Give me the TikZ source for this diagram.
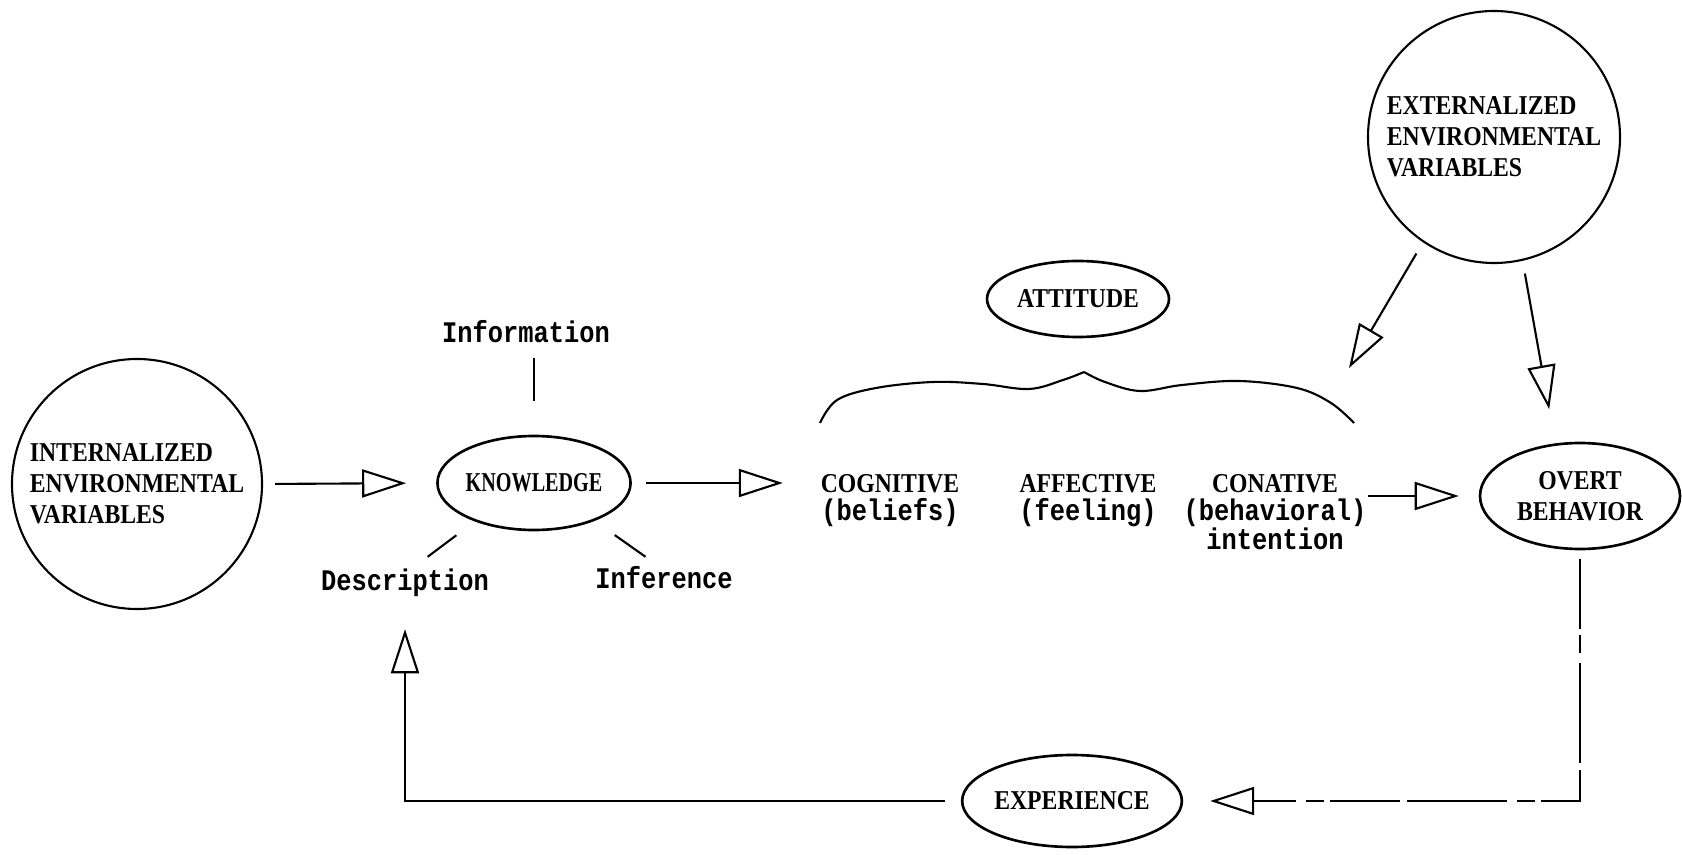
\documentclass[tikz,border=0pt]{standalone}
\usepackage{fontspec}
\usepackage{graphicx}
\newfontfamily\capsfont[FakeStretch=0.87]{Liberation Serif Bold}
\newfontfamily\typefont[FakeStretch=0.85]{Liberation Mono Bold}
\newcommand{\lowtext}[1]{{\typefont\fontsize{17}{16}\selectfont #1}}
\usetikzlibrary{arrows.meta,shapes.geometric}

\begin{document}
\begin{tikzpicture}[line width=1.2pt,
    every node/.append style={inner sep=0pt},
    caps/.style={font=\capsfont\fontsize{15.5}{17.6}\selectfont},
    lowlabel/.style={font=\typefont\fontsize{17}{16}\selectfont, anchor=base},
    blob/.style={draw,circle,caps,align=left,minimum size=#1},
    oval/.style={draw,ellipse,caps,align=center,line width=1.5pt},
    part/.style={font=\capsfont\fontsize{15.5}{16.4}\selectfont,align=center,anchor=north},
    hollow/.style={-{Triangle[open,length=0.88cm,width=0.56cm]}},
    broken/.style={dash pattern=on 1.4cm off 0.12cm on 0.35cm off 0.2cm on 2cm off 0.15cm}]

    \useasboundingbox (0,0) rectangle (33.64,17.08);

    \node[blob=5cm] (intv) at (2.74,7.40) {INTERNALIZED\\ENVIRONMENTAL\\VARIABLES};
    \node[blob=5.04cm] (ext) at (29.88,14.34) {EXTERNALIZED\\ENVIRONMENTAL\\VARIABLES};

    \node[oval,minimum width=3.76cm,minimum height=1.88cm] (know) at (10.68,7.42) {\scalebox{0.85}[1]{KNOWLEDGE}};
    \node[oval,minimum width=3.64cm,minimum height=1.52cm] (att) at (21.56,11.10) {ATTITUDE};
    \node[oval,minimum width=4cm,minimum height=2.12cm] (ovb) at (31.60,7.16) {OVERT\\BEHAVIOR};
    \node[oval,minimum width=4.12cm,minimum height=1.84cm] (exp) at (21.44,1.06) {EXPERIENCE};

    \node[lowlabel] (info) at (10.52,10.24) {Information};
    \node[lowlabel] (desc) at (8.10,5.28) {Description};
    \node[lowlabel] (infr) at (13.28,5.32) {Inference};

    \node[part] (cog) at (17.80,7.62) {COGNITIVE\\\lowtext{(beliefs)}};
    \node[part] (aff) at (21.76,7.62) {AFFECTIVE\\\lowtext{(feeling)}};
    \node[part] (con) at (25.50,7.62) {CONATIVE\\\lowtext{(behavioral)}\\\lowtext{intention}};

    % the brace under ATTITUDE
    \draw plot[smooth,tension=0.6] coordinates {(16.40,8.62) (16.74,9.08) (17.52,9.32)
        (18.66,9.44) (19.66,9.40) (20.58,9.30) (21.26,9.48) (21.68,9.64)};
    \draw plot[smooth,tension=0.6] coordinates {(21.68,9.64) (22.10,9.44) (22.80,9.26)
        (23.64,9.38) (24.78,9.46) (25.94,9.32) (26.62,9.02) (27.08,8.62)};
    \coordinate (braceend) at (26.98,9.72);

    \draw[shorten <=0.3cm,shorten >=0.68cm] (info.south -| know.north) -- (know.north);
    \draw[shorten <=0.35cm,shorten >=0.46cm] (desc.60) -- (know.213);
    \draw[shorten <=0.49cm,shorten >=0.28cm] (know.328) -- (infr.120);

    \draw[hollow,shorten <=0.24cm,shorten >=0.6cm] (intv.east) -- (know.west);
    \draw[hollow,shorten <=0.28cm,shorten >=0.74cm] (know.east) -- (know.east -| cog.west);
    \draw[hollow,shorten >=0.4cm] (con.east |- ovb.west) -- (ovb.west);
    \draw[hollow,shorten <=0.26cm] (ext.236) -- (braceend);
    \draw[hollow,shorten <=0.26cm,shorten >=0.66cm] (ext.283) -- ([xshift=-0.5cm]ovb.north);
    \draw[hollow,broken,shorten <=0.18cm,shorten >=0.54cm] (ovb.south) |- (exp.east);
    \draw[hollow,shorten <=0.32cm,shorten >=0.64cm] (exp.west) -| (desc.south);
\end{tikzpicture}
\end{document}
